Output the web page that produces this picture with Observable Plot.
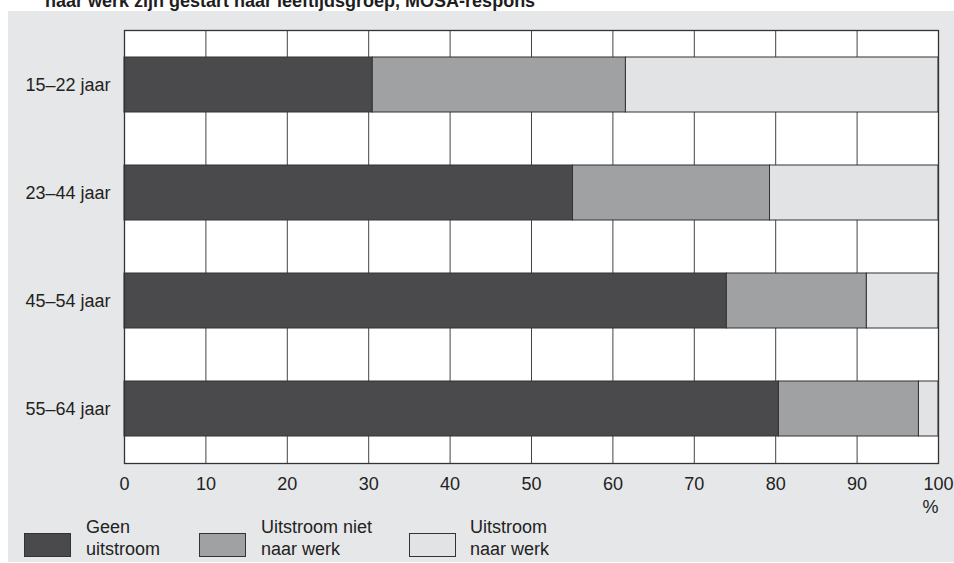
<!DOCTYPE html>
<html>
<head>
<meta charset="utf-8">
<script src="https://cdn.jsdelivr.net/npm/d3@7"></script>
<script src="https://cdn.jsdelivr.net/npm/@observablehq/plot@0.6"></script>
<style>
  html, body { margin: 0; padding: 0; background: #ffffff; width: 954px; height: 563px; overflow: hidden; position: relative; font-family: "Liberation Sans", Arial, sans-serif; color: #222; }
  #title { position: absolute; left: 45px; top: -8px; font-size: 18px; line-height: 18px; font-weight: bold; white-space: nowrap; color: #1e1e1e; }
  #panel { position: absolute; left: 8px; top: 11px; width: 946px; height: 551px; background: #e6e7e9; }
  #chart { position: absolute; left: 8px; top: 11px; }
  .sw { position: absolute; top: 533px; width: 45px; height: 22px; border: 1px solid #333; box-sizing: content-box; }
  .lab { position: absolute; top: 516px; font-size: 18px; line-height: 22px; white-space: nowrap; color: #222; }
</style>
</head>
<body>
<div id="title">naar werk zijn gestart naar leeftijdsgroep, MOSA-respons</div>
<div id="panel"></div>
<div id="chart"></div>
<div id="legend"></div>
<script>
const ages = ["15–22 jaar", "23–44 jaar", "45–54 jaar", "55–64 jaar"];
const categories = ["Geen uitstroom", "Uitstroom niet naar werk", "Uitstroom naar werk"];
const legendLines = [["Geen", "uitstroom"], ["Uitstroom niet", "naar werk"], ["Uitstroom", "naar werk"]];
const geenUitstroom = [30.5, 55.1, 74.0, 80.4];
const uitstroomNietNaarWerk = [31.1, 24.2, 17.2, 17.2];
const uitstroomNaarWerk = [38.4, 20.7, 8.8, 2.4];
const xTicks = [0, 10, 20, 30, 40, 50, 60, 70, 80, 90, 100];
const colors = ["#4a4a4c", "#a0a1a3", "#e2e3e5"];

const series = [geenUitstroom, uitstroomNietNaarWerk, uitstroomNaarWerk];
const data = [];
ages.forEach((age, i) => {
  categories.forEach((cat, j) => {
    data.push({age, cat, value: series[j][i]});
  });
});

const chart = Plot.plot({
  width: 946,
  height: 507,
  marginLeft: 116,
  marginRight: 16,
  marginTop: 19,
  marginBottom: 55,
  style: {background: "transparent", fontFamily: "'Liberation Sans', Arial, sans-serif", fontSize: "18px", color: "#222"},
  x: {domain: [0, 100], ticks: xTicks, tickSize: 0, tickPadding: 14, label: null},
  y: {domain: ages, paddingInner: 0.492, paddingOuter: 0.245, tickSize: 0, tickPadding: 14, label: null},
  color: {domain: categories, range: colors},
  marks: [
    Plot.frame({fill: "white", stroke: null}),
    Plot.ruleX(xTicks.slice(1, -1), {stroke: "#444", strokeWidth: 1}),
    Plot.barX(data, {x: "value", y: "age", fill: "cat", stroke: "#333", strokeWidth: 1, inset: 0}),
    Plot.frame({stroke: "#333", strokeWidth: 1.3}),
    Plot.text(["%"], {text: d => d, frameAnchor: "bottom-right", dy: 49, textAnchor: "end", fontSize: 18, fill: "#222"})
  ]
});
document.getElementById("chart").appendChild(chart);

const legend = document.getElementById("legend");
const swX = [24, 199, 409];
const labX = [86, 261, 470];
categories.forEach((cat, j) => {
  const sw = document.createElement("div");
  sw.className = "sw";
  sw.style.left = swX[j] + "px";
  sw.style.background = colors[j];
  legend.appendChild(sw);
  const lab = document.createElement("div");
  lab.className = "lab";
  lab.style.left = labX[j] + "px";
  lab.innerHTML = legendLines[j].join("<br>");
  legend.appendChild(lab);
});
</script>
</body>
</html>
